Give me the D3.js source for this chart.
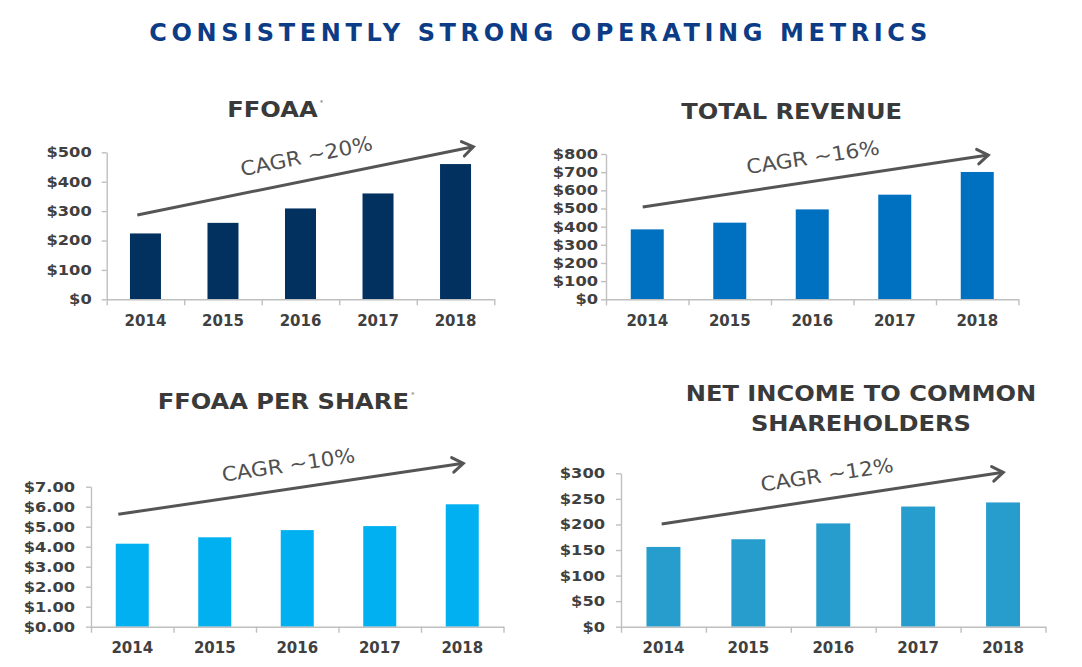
<!DOCTYPE html>
<html><head><meta charset="utf-8">
<script src="https://cdn.jsdelivr.net/npm/d3@7"></script>
<style>
body{margin:0;background:#fff}
svg{display:block}
text{font-family:"DejaVu Sans",sans-serif}
</style>
</head><body>
<svg id="c" width="1082" height="667"></svg>
<script>
// ---- data ----
const years = ["2014", "2015", "2016", "2017", "2018"];
const ffoaaValues = [224, 260, 309, 360, 460];
const revenueValues = [385, 422, 495, 576, 701];
const perShareValues = [4.15, 4.47, 4.83, 5.03, 6.12];
const netIncomeValues = [156, 171, 202, 235, 243];
const ffoaaTicks = [0, 100, 200, 300, 400, 500];
const revenueTicks = [0, 100, 200, 300, 400, 500, 600, 700, 800];
const perShareTicks = [0, 1, 2, 3, 4, 5, 6, 7];
const netIncomeTicks = [0, 50, 100, 150, 200, 250, 300];
const cagrLabels = ["CAGR ~20%", "CAGR ~16%", "CAGR ~10%", "CAGR ~12%"];
const trendFrom = [287, 508, 5.62, 201];
const trendTo = [519, 794, 8.17, 302];
const chartTitles = [["FFOAA"], ["TOTAL REVENUE"], ["FFOAA PER SHARE"], ["NET INCOME TO COMMON", "SHAREHOLDERS"]];
const titleMarks = ["*", "", "*", ""];
const mainTitle = "CONSISTENTLY STRONG OPERATING METRICS";

const seriesList = [ffoaaValues, revenueValues, perShareValues, netIncomeValues];
const tickList = [ffoaaTicks, revenueTicks, perShareTicks, netIncomeTicks];

// ---- layout ----
const layout = [
  {x0:106.7, x1:494.3, y0:299.3, y1:152.3, color:"#03315f", pad:10, fmt:d=>"$"+d, tx:272.5, ty:[117], ax:[0.395,4.73], along:6},
  {x0:606, x1:1018.5, y0:299.3, y1:154, color:"#0070c0", pad:3, fmt:d=>"$"+d, tx:791.7, ty:[119.3], ax:[0.445,4.634], along:1},
  {x0:91, x1:503.5, y0:626.7, y1:486.7, color:"#00b0f0", pad:11, fmt:d=>"$"+d.toFixed(2), tx:283.3, ty:[409.3], ax:[0.331,4.513], along:1},
  {x0:621, x1:1045.5, y0:626.7, y1:473.3, color:"#279dcd", pad:11, fmt:d=>"$"+d, tx:861, ty:[400.7,430.7], ax:[0.479,4.503], along:-2}
];

const svg = d3.select("#c");
const TEXT = "#404040";

function stretch(sel, f){
  sel.each(function(){
    const w = this.getComputedTextLength();
    d3.select(this).attr("textLength", w*f).attr("lengthAdjust","spacingAndGlyphs");
  });
}

// main title
svg.append("text")
  .attr("x", 538.3).attr("y", 41.3)
  .attr("text-anchor","middle")
  .attr("font-size", 24).attr("font-weight","bold")
  .attr("fill","#0c3c86")
  .attr("textLength", 778).attr("lengthAdjust","spacing")
  .text(mainTitle);

layout.forEach((L, i) => {
  const g = svg.append("g");
  const values = seriesList[i];
  const ticks = tickList[i];

  const x = d3.scaleBand().domain(years).range([L.x0, L.x1]).paddingInner(0.6).paddingOuter(0.3);
  const y = d3.scaleLinear().domain([0, d3.max(ticks)]).range([L.y0, L.y1]);
  const step = (L.x1 - L.x0) / years.length;

  // bars
  g.selectAll("rect").data(values).join("rect")
    .attr("x", (d, j) => x(years[j]))
    .attr("width", x.bandwidth())
    .attr("y", d => y(d))
    .attr("height", d => y(0) - y(d))
    .attr("fill", L.color);

  // y axis
  const ya = g.append("g").attr("transform", `translate(${L.x0},0)`)
    .call(d3.axisLeft(y).tickValues(ticks).tickSize(5).tickSizeOuter(0).tickPadding(L.pad).tickFormat(L.fmt));
  ya.selectAll("path,line").attr("stroke","#bfbfbf").attr("stroke-width",1.4);
  ya.selectAll("text").attr("font-size",14).attr("font-weight","bold").attr("fill",TEXT)
    .attr("font-family","DejaVu Sans");
  stretch(ya.selectAll("text"), 1.16);

  // x axis line with boundary ticks
  const xb = d3.scaleLinear().domain([0, years.length]).range([L.x0, L.x1]);
  const xa = g.append("g").attr("transform", `translate(0,${L.y0})`)
    .call(d3.axisBottom(xb).tickValues(d3.range(years.length + 1)).tickSize(6).tickSizeOuter(0).tickFormat(""));
  xa.selectAll("path,line").attr("stroke","#bfbfbf").attr("stroke-width",1.4);

  // x labels
  const xl = g.append("g").attr("transform", `translate(0,${L.y0})`)
    .call(d3.axisBottom(x).tickSize(0).tickPadding(16));
  xl.select(".domain").remove();
  xl.selectAll("text").attr("font-size",15).attr("font-weight","bold").attr("fill",TEXT)
    .attr("font-family","DejaVu Sans");

  // title
  chartTitles[i].forEach((t, k) => {
    const tt = g.append("text")
      .attr("x", L.tx).attr("y", L.ty[k])
      .attr("text-anchor","middle")
      .attr("font-size",21).attr("font-weight","bold").attr("fill","#3a3a3a")
      .text(t);
    const natural = tt.node().getComputedTextLength();
    stretch(tt, 1.15);
    if (titleMarks[i] && k === chartTitles[i].length - 1) {
      const w = natural * 1.15;
      g.append("text")
        .attr("x", L.tx + w/2 + 2).attr("y", L.ty[k] - 12)
        .attr("font-size",7).attr("fill","#777")
        .text(titleMarks[i]);
    }
  });

  // trend arrow
  const sx = L.x0 + L.ax[0]*step, sy = y(trendFrom[i]);
  const ex = L.x0 + L.ax[1]*step, ey = y(trendTo[i]);
  const ang = Math.atan2(ey - sy, ex - sx);
  g.append("line").attr("x1",sx).attr("y1",sy).attr("x2",ex).attr("y2",ey)
    .attr("stroke","#555").attr("stroke-width",3);
  const hl = 13, ha = 0.6;
  const p1 = [ex - hl*Math.cos(ang - ha), ey - hl*Math.sin(ang - ha)];
  const p2 = [ex - hl*Math.cos(ang + ha), ey - hl*Math.sin(ang + ha)];
  g.append("path").attr("d", `M${p1}L${ex},${ey}L${p2}`)
    .attr("fill","none").attr("stroke","#555").attr("stroke-width",3)
    .attr("stroke-linejoin","miter").attr("stroke-linecap","round");

  // CAGR label
  const mx = (sx + ex)/2, my = (sy + ey)/2;
  const nx = Math.sin(ang), ny = -Math.cos(ang); // perpendicular (upwards)
  const off = 24;
  const cx = mx + nx*off + Math.cos(ang)*L.along;
  const cy = my + ny*off + Math.sin(ang)*L.along;
  const ct = g.append("text")
    .attr("transform", `translate(${cx},${cy}) rotate(${ang*180/Math.PI})`)
    .attr("text-anchor","middle").attr("dominant-baseline","central")
    .attr("font-size",20).attr("fill","#505050")
    .text(cagrLabels[i]);
  stretch(ct, 1.08);
});
</script>
</body></html>
